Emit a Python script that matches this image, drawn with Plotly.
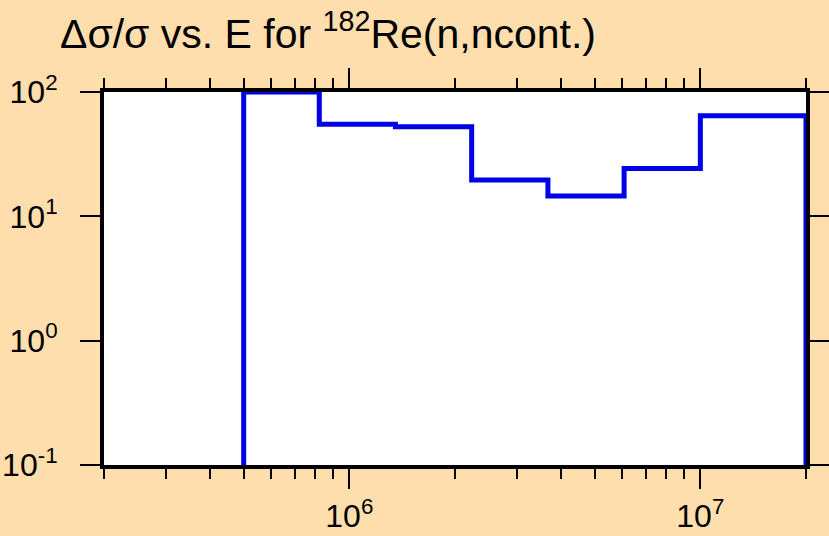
import plotly.graph_objects as go

# Group boundaries (eV) and relative uncertainty (%) per group
energy_edges = [5.0e5, 8.21e5, 1.353e6, 2.231e6, 3.679e6, 6.065e6, 1.0e7, 2.0e7]
rel_unc = [100.0, 55.0, 52.6, 19.6, 14.6, 24.2, 64.4]
y_floor = 0.1

x_major = [1e6, 1e7]
x_major_text = ["10<sup>6</sup>", "10<sup>7</sup>"]
x_minor = [2e5, 3e5, 4e5, 5e5, 6e5, 7e5, 8e5, 9e5,
           2e6, 3e6, 4e6, 5e6, 6e6, 7e6, 8e6, 9e6, 2e7]
y_major = [0.1, 1, 10, 100]
y_major_text = ["10<sup>-1</sup>", "10<sup>0</sup>", "10<sup>1</sup>", "10<sup>2</sup>"]

# Build histogram-style step outline
xs = [energy_edges[0]] + energy_edges[:-1] + [energy_edges[-1], energy_edges[-1]]
ys = [y_floor] + rel_unc + [rel_unc[-1], y_floor]

fig = go.Figure()
fig.add_trace(go.Scatter(x=xs, y=ys, mode="lines", line_shape="hv",
                         line=dict(color="#0000E6", width=5),
                         showlegend=False, hoverinfo="skip"))

font_family = "Liberation Sans, Arial, sans-serif"
fig.update_layout(
    width=829, height=536,
    paper_bgcolor="#FFDEAD", plot_bgcolor="#FFFFFF",
    margin=dict(l=104, r=23, t=92, b=71),
    font=dict(family=font_family, color="#000000", size=32),
    title=dict(text="\u0394\u03c3/\u03c3 vs. E for <sup>182</sup>Re(n,ncont.)",
               x=60/829, xanchor="left", xref="container",
               y=1-34/536, yanchor="middle", yref="container",
               font=dict(size=41, family=font_family)),
)
fig.update_xaxes(type="log", range=[5.30103, 7.30103], automargin=False,
                 tickmode="array", tickvals=x_major, ticktext=x_major_text,
                 ticks="outside", ticklen=20, tickwidth=2, tickcolor="black",
                 minor=dict(tickmode="array", tickvals=x_minor, ticks="outside",
                            ticklen=10, tickwidth=2, tickcolor="black", showgrid=False),
                 showline=True, linewidth=4, linecolor="black", mirror="allticks",
                 showgrid=False, zeroline=False, ticklabelstandoff=0,
                 tickfont=dict(size=32))
fig.update_yaxes(type="log", range=[-1, 2], automargin=False,
                 tickmode="array", tickvals=y_major, ticktext=y_major_text,
                 ticks="outside", ticklen=20, tickwidth=2, tickcolor="black",
                 showline=True, linewidth=4, linecolor="black", mirror="allticks",
                 showgrid=False, zeroline=False, ticklabelstandoff=16,
                 tickfont=dict(size=32))

fig.write_html("out.html",
               config={"displayModeBar": False},
               post_script="document.body.style.margin='0';"
                           "document.body.style.backgroundColor='#FFDEAD';")
